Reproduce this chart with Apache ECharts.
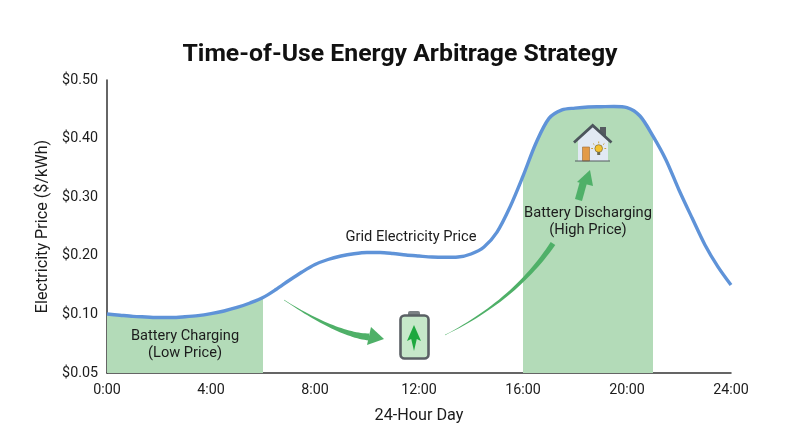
<!DOCTYPE html>
<html>
<head>
<meta charset="utf-8">
<style>html,body{margin:0;padding:0;background:#fff}#c{width:800px;height:447px}</style>
<script src="https://cdn.jsdelivr.net/npm/echarts@6/dist/echarts.min.js"></script>
</head>
<body>
<div id="c"></div>
<script>
var titleText = 'Time-of-Use Energy Arbitrage Strategy';
var xAxisName = '24-Hour Day';
var yAxisName = 'Electricity Price ($/kWh)';
var yTickLabels = ['$0.05','$0.10','$0.20','$0.30','$0.40','$0.50'];
var yTickPrices = [0.05,0.10,0.20,0.30,0.40,0.50];
var hours  = [0,0.5,1,1.5,2,2.5,3,3.5,4,4.5,5,5.5,6,6.5,7,7.5,8,8.5,9,9.5,10,10.5,11,11.5,12,12.5,13,13.5,14,14.5,15,15.5,16,16.5,17,17.5,18,18.5,19,19.5,20,20.5,21,21.5,22,22.5,23,23.5,24];
var prices = [0.1007,0.0993,0.0983,0.0978,0.0973,0.0973,0.0980,0.0990,0.1014,0.1058,0.1118,0.1195,0.1288,0.1425,0.1578,0.1723,0.1851,0.1937,0.1996,0.2035,0.2056,0.2056,0.2039,0.2014,0.1996,0.1979,0.1974,0.1979,0.2031,0.2150,0.2405,0.2833,0.3360,0.3925,0.4345,0.4490,0.4520,0.4540,0.4544,0.4548,0.4530,0.4386,0.4043,0.3636,0.3123,0.2648,0.2184,0.1810,0.1500];
var chargeWindow = [0,6];
var dischargeWindow = [16,21];

// The price axis is evenly spaced between unevenly spaced ticks, so prices map piecewise to tick index.
function toAxis(p){
  for (var i=0;i<yTickPrices.length-1;i++){
    if (p<=yTickPrices[i+1]) return i+(p-yTickPrices[i])/(yTickPrices[i+1]-yTickPrices[i]);
  }
  return yTickPrices.length-1;
}
var pairs = hours.map(function(h,i){return [h,toAxis(prices[i])];});
function windowed(w){return pairs.filter(function(d){return d[0]>=w[0]&&d[0]<=w[1];});}

var GREEN='#4fb068', FILL='#b3dbb8', TXT='#1c1c1c', FONT='Roboto';

function taper(p0,c,p1,w0,w1){
  var L=[],R=[],n=30;
  for(var i=0;i<=n;i++){
    var t=i/n,u=1-t;
    var x=u*u*p0[0]+2*u*t*c[0]+t*t*p1[0], y=u*u*p0[1]+2*u*t*c[1]+t*t*p1[1];
    var dx=2*u*(c[0]-p0[0])+2*t*(p1[0]-c[0]), dy=2*u*(c[1]-p0[1])+2*t*(p1[1]-c[1]);
    var l=Math.sqrt(dx*dx+dy*dy), w=(w0+(w1-w0)*t)/2;
    L.push([x-dy/l*w,y+dx/l*w]); R.unshift([x+dy/l*w,y-dx/l*w]);
  }
  return L.concat(R);
}
function poly(points,fill,z){return {type:'polygon',z:z||5,shape:{points:points},style:{fill:fill}};}
function label(x,y,t,size,weight){
  return {type:'text',z:7,x:x,y:y,style:{text:t,fill:TXT,font:(weight||'400')+' '+size+'px '+FONT,align:'center',verticalAlign:'middle',lineHeight:17}};
}
function rect(x,y,w,h,fill,r,stroke,lw){
  return {type:'rect',z:6,shape:{x:x,y:y,width:w,height:h,r:r||0},style:{fill:fill,stroke:stroke||null,lineWidth:lw||0}};
}
function seg(a,b,c,d,col,lw){return {type:'line',z:6,shape:{x1:a,y1:b,x2:c,y2:d},style:{stroke:col,lineWidth:lw}};}

var graphics = [
  label(185,344.5,'Battery Charging\n(Low Price)',14.6),
  label(411,237,'Grid Electricity Price',14.7),
  label(588,222,'Battery Discharging\n(High Price)',14.7),
  // charge arrow
  poly(taper([284,300],[338,335],[369,337],0.3,7),GREEN),
  poly([[371,327],[384,339],[367,345]],GREEN),
  // discharge arrow
  poly(taper([445,335],[515,300],[553,243.5],0.3,5.5),GREEN),
  poly([[575,199],[582,201],[587,183],[580,181]],GREEN),
  poly([[577,182],[590,170],[593,186]],GREEN),
  // battery
  rect(408,311,12,6,'#7b8184',2),
  rect(400.5,315.5,28,43,'#c6e8c9',4,'#5a6064',2.6),
  poly([[414,325],[421,341],[416.8,339],[414,351],[411.2,339],[407,341]],'#1ea83f',6),
  // house
  rect(600,127,6,9,'#555b60'),
  poly([[593,126],[578,140],[578,161],[608,161],[608,140]],'#e1e9f3',6),
  {type:'polyline',z:6,shape:{points:[[574,142.5],[592.7,125.5],[611.5,142.5]]},style:{fill:null,stroke:'#4c555c',lineWidth:2.8}},
  rect(582.5,147,7,14,'#e39a45',0,'#9a6a33',0.6),
  seg(575,161,610,161,'#555b60',1.2),
  {type:'circle',z:6,shape:{cx:598.7,cy:148.5,r:3.8},style:{fill:'#f4c22e',stroke:'#7a6a30',lineWidth:0.7}},
  rect(597.2,152,3,3,'#6b6b55'),
  seg(598.7,141.5,598.7,143.3,'#c79a2a',0.9),
  seg(593,143.5,594.4,144.7,'#c79a2a',0.9),
  seg(604.4,143.5,603,144.7,'#c79a2a',0.9),
  seg(591.2,148.5,593,148.5,'#c79a2a',0.9),
  seg(606.2,148.5,604.4,148.5,'#c79a2a',0.9)
];

var chart = echarts.init(document.getElementById('c'),null,{renderer:'canvas'});
chart.setOption({
  animation:false,
  backgroundColor:'#ffffff',
  textStyle:{fontFamily:FONT},
  title:{text:titleText,left:'center',top:37,textStyle:{fontFamily:FONT,fontSize:24.8,fontWeight:'700',color:'#111'}},
  grid:{left:107,right:69,top:80,bottom:74,containLabel:false},
  xAxis:{type:'value',min:0,max:24,interval:4,
    name:xAxisName,nameLocation:'middle',nameGap:35,nameTextStyle:{fontSize:16.2,color:TXT,fontFamily:FONT},
    axisLine:{show:true,lineStyle:{color:'#333',width:1.5}},axisTick:{show:false},splitLine:{show:false},
    axisLabel:{fontSize:14.3,color:TXT,margin:10,formatter:function(v){return v+':00';}}},
  yAxis:{type:'value',min:0,max:5,interval:1,
    name:yAxisName,nameLocation:'middle',nameGap:54,nameTextStyle:{fontSize:16.2,color:TXT,fontFamily:FONT},
    axisLine:{show:true,onZero:false,lineStyle:{color:'#333',width:1.5}},axisTick:{show:false},splitLine:{show:false},
    axisLabel:{fontSize:14.3,color:TXT,margin:9,formatter:function(v){return yTickLabels[v];}}},
  series:[
    {type:'line',name:'Charging',data:windowed(chargeWindow),smooth:0.3,symbol:'none',lineStyle:{width:0},areaStyle:{color:FILL,opacity:1,origin:'start'},z:1},
    {type:'line',name:'Discharging',data:windowed(dischargeWindow),smooth:0.3,symbol:'none',lineStyle:{width:0},areaStyle:{color:FILL,opacity:1,origin:'start'},z:1},
    {type:'line',name:'Grid Electricity Price',data:pairs,smooth:0.3,symbol:'none',lineStyle:{width:3.4,color:'#5f93d8'},z:3}
  ],
  graphic:graphics
});
</script>
</body>
</html>
